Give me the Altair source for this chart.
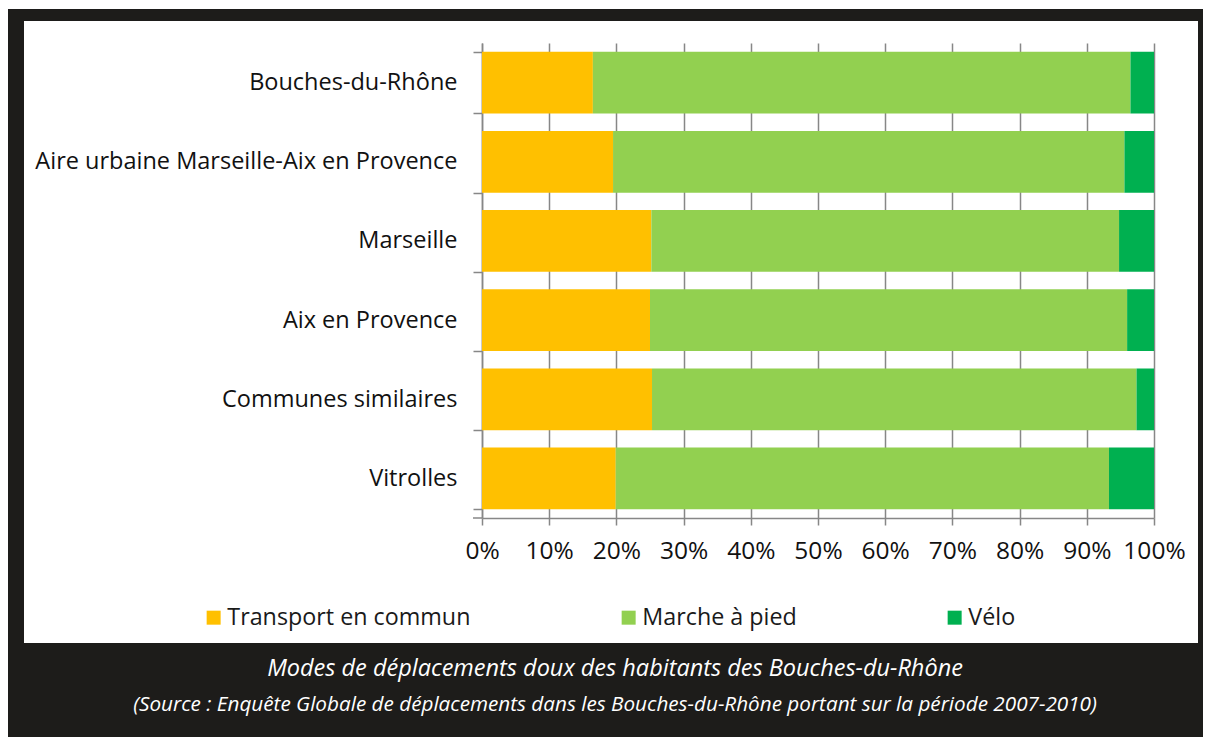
import altair as alt
import pandas as pd

categories = [
    "Bouches-du-Rhône",
    "Aire urbaine Marseille-Aix en Provence",
    "Marseille",
    "Aix en Provence",
    "Communes similaires",
    "Vitrolles",
]
modes = ["Transport en commun", "Marche à pied", "Vélo"]
transport = [16.5, 19.5, 25.2, 25.0, 25.3, 19.9]
marche = [80.0, 76.1, 69.6, 71.0, 72.1, 73.4]
velo = [3.5, 4.4, 5.2, 4.0, 2.6, 6.7]
colors = ["#FFC000", "#92D050", "#00B050"]
x_ticks = [0, 10, 20, 30, 40, 50, 60, 70, 80, 90, 100]
title_line1 = "Modes de déplacements doux des habitants des Bouches-du-Rhône"
title_line2 = "(Source : Enquête Globale de déplacements dans les Bouches-du-Rhône portant sur la période 2007-2010)"

rows = []
for i, c in enumerate(categories):
    for j, (m, vals) in enumerate(zip(modes, [transport, marche, velo])):
        rows.append({"zone": c, "mode": m, "order": j, "value": vals[i]})
df = pd.DataFrame(rows)

FONT = "Open Sans"
GRAY = "#878787"
DARK = "#1d1c1a"
W, H = 672, 475

bars = alt.Chart(df).mark_bar().encode(
    y=alt.Y(
        "zone:N",
        sort=categories,
        title=None,
        scale=alt.Scale(paddingInner=0.22, paddingOuter=0.11),
        axis=alt.Axis(
            tickBand="extent",
            tickSize=9,
            tickColor=GRAY,
            tickWidth=1.5,
            domainColor=GRAY,
            domainWidth=1.5,
            labelFont=FONT,
            labelFontSize=23.5,
            labelColor="#111111",
            labelPadding=16,
            labelLimit=600,
        ),
    ),
    x=alt.X(
        "value:Q",
        stack="zero",
        title=None,
        scale=alt.Scale(domain=[0, 100], nice=False),
        axis=alt.Axis(
            values=x_ticks,
            labelExpr="datum.value + '%'",
            grid=True,
            gridColor=GRAY,
            gridWidth=1.5,
            tickSize=7,
            tickColor=GRAY,
            tickWidth=1.5,
            domainColor=GRAY,
            domainWidth=1.5,
            labelFont=FONT,
            labelFontSize=24.5,
            labelColor="#111111",
            labelPadding=14,
            labelFlush=False,
        ),
    ),
    color=alt.Color(
        "mode:N",
        sort=modes,
        scale=alt.Scale(domain=modes, range=colors),
        legend=alt.Legend(
            title=None,
            orient="none",
            direction="horizontal",
            legendX=-280,
            legendY=563,
            symbolType="square",
            symbolSize=196,
            symbolStrokeWidth=0,
            labelFont=FONT,
            labelFontSize=23.3,
            labelColor="#1a1a1a",
            labelOffset=2,
            columnPadding=146,
            labelLimit=400,
        ),
    ),
    order=alt.Order("order:Q"),
)

dummy = pd.DataFrame({"d": [0]})
base = alt.Chart(dummy)
frame_top = base.mark_rect(color=DARK).encode(
    x=alt.value(-474), x2=alt.value(740), y=alt.value(-34), y2=alt.value(-22)
)
frame_left = base.mark_rect(color=DARK).encode(
    x=alt.value(-474), x2=alt.value(-458), y=alt.value(-34), y2=alt.value(720)
)
frame_right = base.mark_rect(color=DARK).encode(
    x=alt.value(716), x2=alt.value(740), y=alt.value(-34), y2=alt.value(720)
)
frame_bottom = base.mark_rect(color=DARK).encode(
    x=alt.value(-474), x2=alt.value(740), y=alt.value(600), y2=alt.value(720)
)
bottom_tick = base.mark_rule(color=GRAY, strokeWidth=1.5).encode(
    x=alt.value(-9), x2=alt.value(0), y=alt.value(H)
)
t1 = base.mark_text(
    font=FONT, fontSize=23.5, fontStyle="italic", color="white", align="center", baseline="middle"
).encode(x=alt.value(133), y=alt.value(626), text=alt.value(title_line1))
t2 = base.mark_text(
    font=FONT, fontSize=20.7, fontStyle="italic", color="white", align="center", baseline="middle"
).encode(x=alt.value(133), y=alt.value(662), text=alt.value(title_line2))

chart = alt.layer(
    bars, frame_top, frame_left, frame_right, frame_bottom, bottom_tick, t1, t2
).properties(
    width=W,
    height=H,
    autosize=alt.AutoSizeParams(type="none"),
    padding={"left": 474, "top": 35, "right": 49, "bottom": 219},
    background="white",
).configure_view(stroke=None)

chart.save("out.html", embed_options={"renderer": "svg", "actions": False})
